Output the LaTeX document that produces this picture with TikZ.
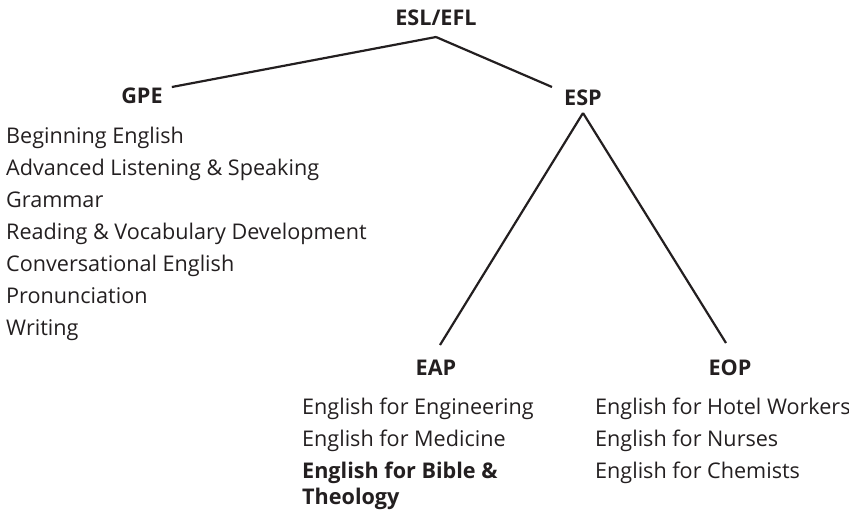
\documentclass[tikz,border=0pt]{standalone}
\usepackage{fontspec}
\setmainfont{Open Sans}
\usepackage{tikz}
\definecolor{ink}{HTML}{231F20}

\begin{document}
\begin{tikzpicture}[x=1pt,y=-1pt,
  every node/.style={inner sep=0pt,text=ink},
  head/.style={font=\fontsize{21.6}{31}\selectfont\bfseries,anchor=base},
  list/.style={font=\fontsize{21.6}{32}\selectfont,anchor=north west,align=left},
  branch/.style={line width=2.2pt,draw=ink}]
\useasboundingbox (0,0) rectangle (849,515);
\node [head] (esl) at (436,25) {ESL/EFL};
\node [head] (gpe) at (142,103) {GPE};
\node [head] (esp) at (583,105) {ESP};
\node [head] (eap) at (436,375) {EAP};
\node [head] (eop) at (730,375) {EOP};
\node [list] (gpelist) at (6,127) {Beginning English\\Advanced Listening \& Speaking\\Grammar\\
  Reading \& Vocabulary Development\\Conversational English\\Pronunciation\\Writing};
\node [list] (eaplist) at (302,398) {English for Engineering\\English for Medicine\\
  \textbf{English for Bible \&}\\[-6pt]\textbf{Theology}};
\node [list] (eoplist) at (595,398) {English for Hotel Workers\\English for Nurses\\English for Chemists};
\draw [branch] ([yshift=-12pt]esl.base) -- ([xshift=9pt,yshift=16pt]gpe.base east);
\draw [branch] ([yshift=-12pt]esl.base) -- ([xshift=-12pt,yshift=18pt]esp.base west);
\draw [branch] ([yshift=-8pt]esp.base) -- ([xshift=4pt,yshift=30pt]eap.base);
\draw [branch] ([yshift=-8pt]esp.base) -- ([xshift=-4pt,yshift=32pt]eop.base);
\end{tikzpicture}
\end{document}
